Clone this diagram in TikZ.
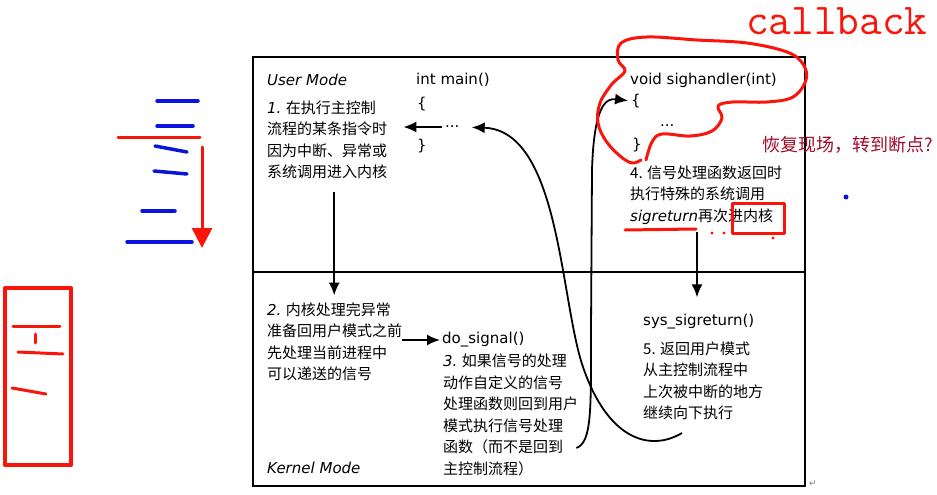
\documentclass[tikz,border=0pt]{standalone}
\usepackage{fontspec}
\setmainfont{DejaVu Sans}
\newfontfamily\cjk{Noto Sans CJK SC}
\usetikzlibrary{arrows.meta,calc}
\definecolor{penred}{RGB}{250,20,10}
\definecolor{penblue}{RGB}{10,20,220}
\definecolor{notered}{RGB}{160,10,40}
\newcommand\itl[1]{{\normalfont\itshape#1}}
\begin{document}
\begin{tikzpicture}[x=1pt,y=-1pt,
  txt/.style={anchor=west,inner sep=0pt,align=left,font=\cjk\fontsize{15}{21.5}\selectfont},
  code/.style={anchor=west,inner sep=0pt,font=\fontsize{15}{18}\selectfont},
  arr/.style={line width=1.8pt,-{Latex[length=13pt,width=11pt]}},
  pen/.style={penred,line width=3pt,line cap=round,line join=round},
  bluepen/.style={penblue,line width=3.5pt,line cap=round}]
\useasboundingbox (0,0) rectangle (937,495);
% frame
\draw[line width=2pt] (253,57) rectangle (805,486);
\draw[line width=2pt] (253,272) -- (805,272);
% user mode
\node[code,font=\itshape\fontsize{15}{18}\selectfont] (user) at (267,80) {User Mode};
\node[code] (main) at (416,80) {int main()};
\node[code] (lb1) at (417,104) {\{};
\node[code] (dots1) at (445,127) {...};
\node[code] (rb1) at (417,146) {\}};
\node[txt] (one) at (267,140) {\itl{1.} 在执行主控制\\流程的某条指令时\\因为中断、异常或\\系统调用进入内核};
\node[code] (sigh) at (630,80) {void sighandler(int)};
\node[code] (lb2) at (631,101) {\{};
\node[code] (dots2) at (660,126) {...};
\node[code] (rb2) at (632,145) {\}};
\node[txt] (four) at (630,195) {4. 信号处理函数返回时\\执行特殊的系统调用\\\itl{sigreturn}再次进内核};
% kernel mode
\node[txt] (two) at (267,342) {\itl{2.} 内核处理完异常\\准备回用户模式之前\\先处理当前进程中\\可以递送的信号};
\node[code] (dosig) at (442,340) {do\_signal()};
\node[txt] (three) at (443,415) {\itl{3.} 如果信号的处理\\动作自定义的信号\\处理函数则回到用户\\模式执行信号处理\\函数（而不是回到\\主控制流程）};
\node[code] (sysret) at (643,322) {sys\_sigreturn()};
\node[txt] (five) at (643,381) {5. 返回用户模式\\从主控制流程中\\上次被中断的地方\\继续向下执行};
\node[code,font=\itshape\fontsize{15}{18}\selectfont] (kern) at (267,468) {Kernel Mode};
\node[text=gray,font=\fontsize{9}{9}\selectfont,inner sep=0pt] (ret) at (813,484) {↵};
% flow
\coordinate (a1) at ($(one.south)+(7,13)$);
\coordinate (a4) at (697,232);
\coordinate (c3) at ($(three.east)+(-2,33)$);
\coordinate (c5) at (682,433);
\draw[arr,shorten >=16pt,shorten <=3pt] (dots1.west) -- (dots1.west -| one.east);
\draw[arr,shorten >=7pt] (a1) -- (a1 |- two.north);
\draw[arr,shorten >=2pt] (two.east |- dosig.west) -- (dosig.west);
\draw[arr,shorten >=17pt] (a4) -- (a4 |- sysret.north);
\draw[arr,shorten >=3pt] (c3) .. controls (592,442) and (591,410) .. (591,330)
  -- (592,170) .. controls (594,105) and (606,98) .. (lb2.west);
\draw[arr,shorten >=12pt] (c5) .. controls (650,452) and (608,440) .. (583,367)
  .. controls (560,300) and (560,130) .. (dots1.east);
% red notes
\node[anchor=base west,inner sep=0pt,text=penred,font=\ttfamily\fontsize{44}{46}\selectfont] (cb) at (746,35) {callback};
\node[anchor=west,inner sep=0pt,text=notered,font=\cjk\fontsize{18}{20}\selectfont] (note) at (762,145) {恢复现场，转到断点?};
\draw[pen] plot[smooth,tension=0.6] coordinates {(646,160) (652,142) (662,134) (690,136) (712,131)
  (722,118) (718,106) (733,102) (767,102) (793,97) (806,80) (803,64) (787,52) (747,43) (697,40)
  (647,37) (621,43) (618,60) (625,71) (612,84) (600,103) (598,123) (606,141) (620,156) (632,163) (641,160)};
\draw[pen] (625,230) -- (696,229);
\draw[pen,line width=3pt] (732,203) rectangle (784,233);
\foreach \x/\y in {712/233,724/233,773/238}
  \fill[penred] (\x,\y) circle (1.6);
\fill[penblue] (846,197) circle (2.5);
% left marks
\foreach \xa/\ya/\xb/\yb in {157/101/198/101,157/126/193/126,155/146/187/152,
  154/171/187/174,142/211/175/211,127/242/192/242}
  \draw[bluepen] (\xa,\ya) -- (\xb,\yb);
\draw[pen] (118,137) -- (200,137);
\draw[pen,-{Triangle[length=20pt,width=20pt]}] (202,147) -- (202,248);
\draw[pen,line width=4pt] (5,288) rectangle (71,465);
\draw[pen] (13,326) -- (60,326);
\draw[pen] (35,334) -- (35,343);
\draw[pen] (18,352) -- (63,354);
\draw[pen] (12,388) -- (46,394);
\end{tikzpicture}
\end{document}
